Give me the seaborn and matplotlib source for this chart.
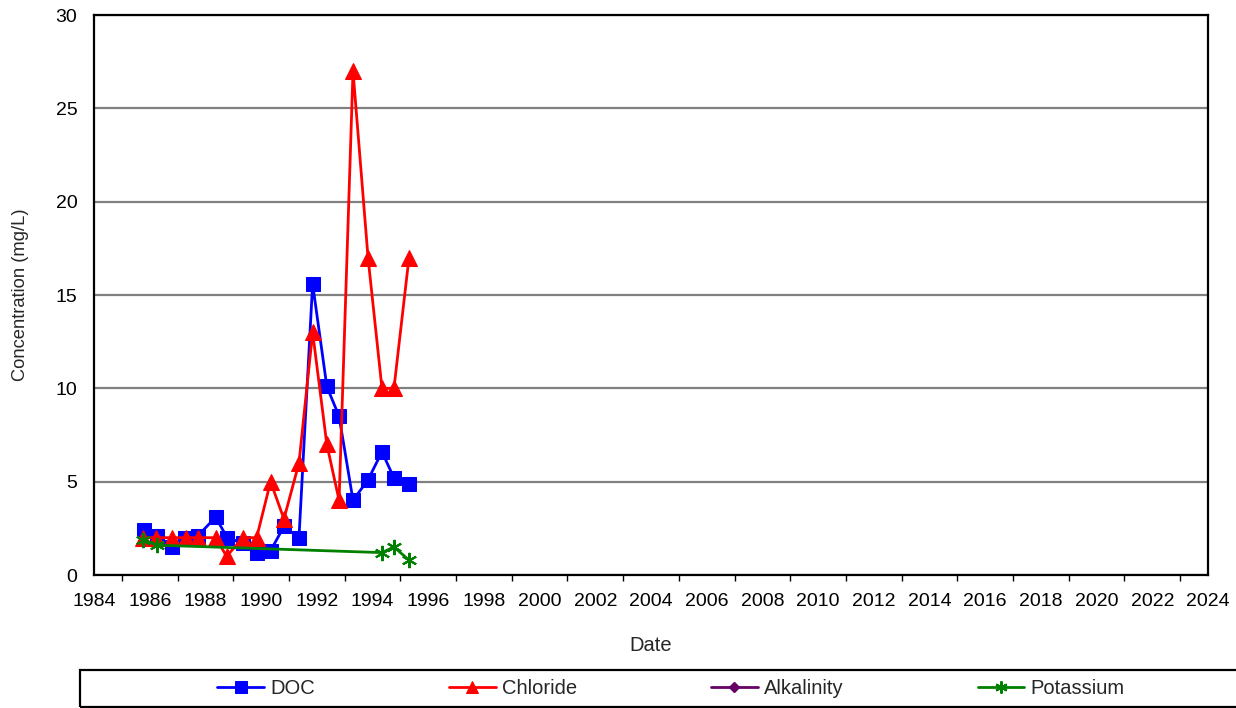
import numpy as np
import pandas as pd
import matplotlib
matplotlib.use("Agg")
import matplotlib.pyplot as plt
from matplotlib.patches import Rectangle
from matplotlib.ticker import MultipleLocator
import seaborn as sns

# ---- data (decimal years) ----
doc_dates = [1985.81, 1986.25, 1986.79, 1987.27, 1987.73, 1988.37, 1988.78, 1989.35,
             1989.84, 1990.34, 1990.82, 1991.36, 1991.85, 1992.36, 1992.80, 1993.30,
             1993.84, 1994.34, 1994.77, 1995.31]
doc_values = [2.4, 2.1, 1.5, 2.0, 2.1, 3.1, 2.0, 1.7, 1.2, 1.3, 2.6, 2.0, 15.6, 10.1,
              8.5, 4.0, 5.1, 6.6, 5.2, 4.9]

chloride_dates = [1985.77, 1986.22, 1986.79, 1987.29, 1987.73, 1988.37, 1988.76, 1989.35,
                  1989.84, 1990.34, 1990.82, 1991.36, 1991.85, 1992.36, 1992.80, 1993.30,
                  1993.84, 1994.34, 1994.77, 1995.31]
chloride_values = [2, 2, 2, 2, 2, 2, 1, 2, 2, 5, 3, 6, 13, 7, 4, 27, 17, 10, 10, 17]

alkalinity_dates = []
alkalinity_values = []

potassium_dates = [1985.77, 1986.25, 1994.34, 1994.77, 1995.31]
potassium_values = [1.9, 1.6, 1.2, 1.5, 0.8]

x_ticks = list(range(1984, 2025, 2))
y_ticks = [0, 5, 10, 15, 20, 25, 30]

# ---- style ----
sns.set_style("white")
plt.rcParams['font.family'] = ['Liberation Sans', 'DejaVu Sans']

W, H = 1236, 708
fig = plt.figure(figsize=(W / 100, H / 100), dpi=100)
ax = fig.add_axes([94 / W, 1 - 575 / H, (1208 - 94) / W, (575 - 15) / H])

lw = 2.0
sns.lineplot(x=doc_dates, y=doc_values, ax=ax, color="#0000FF", marker="s",
             markersize=10, markeredgecolor="#0000FF", linewidth=lw, label="DOC",
             sort=False, zorder=3)
sns.lineplot(x=chloride_dates, y=chloride_values, ax=ax, color="#FF0000", marker="^",
             markersize=11, markeredgecolor="#FF0000", linewidth=lw, label="Chloride",
             sort=False, zorder=4)
ax.plot(alkalinity_dates, alkalinity_values, color="#660066", marker="D",
        markersize=7, linewidth=lw, label="Alkalinity")
sns.lineplot(x=potassium_dates, y=potassium_values, ax=ax, color="#008000",
             marker=(6, 2, 0), markersize=11, markeredgecolor="#008000",
             markeredgewidth=1.5, linewidth=lw, label="Potassium", sort=False, zorder=5)

ax.set_xlim(1984, 2024)
ax.set_ylim(0, 30)
ax.set_xticks(x_ticks)
ax.set_xticklabels([str(t) for t in x_ticks])
ax.xaxis.set_minor_locator(MultipleLocator(1))
ax.set_yticks(y_ticks)
ax.set_yticklabels([str(t) for t in y_ticks])

ax.grid(axis="y", color="#808080", linewidth=1.6)
ax.grid(axis="x", visible=False)
ax.set_axisbelow(True)
for s in ax.spines.values():
    s.set_visible(True)
    s.set_color("black")
    s.set_linewidth(1.6)

ax.tick_params(axis="both", which="major", direction="inout", length=9, width=1.2,
               labelsize=14, colors="black")
ax.tick_params(axis="x", which="major", pad=8.5)
ax.tick_params(axis="y", which="major", pad=7.5)
ax.tick_params(axis="x", which="minor", direction="out", length=4, width=1.0,
               colors="black", bottom=True)

ax.set_xlabel("Date", fontsize=14.5, labelpad=19)
ax.set_ylabel("Concentration (mg/L)", fontsize=13.2, labelpad=19)

handles, labels = ax.get_legend_handles_labels()
ax.get_legend().remove()

# legend frame
fig.patches.append(Rectangle((80 / W, 1 / H), (1240 - 80) / W, (707 - 670) / H,
                             transform=fig.transFigure, fill=False,
                             edgecolor="black", linewidth=1.6))
leg = fig.legend(handles, labels, loc="center", bbox_to_anchor=(671 / W, 1 - 689 / H),
                 ncol=4, frameon=False, fontsize=14.5, handlelength=2.33,
                 handletextpad=0.3, columnspacing=6.65, markerscale=0.8)

fig.savefig("out.png", dpi=100)
